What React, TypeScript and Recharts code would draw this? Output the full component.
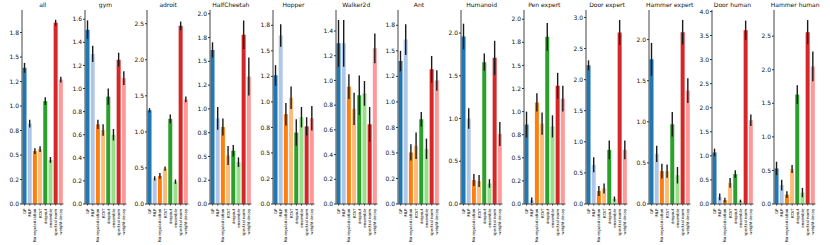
import React from 'react';
import { BarChart, Bar, XAxis, YAxis, Cell, ErrorBar } from 'recharts';

const methods = ['GP', 'MLP', 'No regularization', 'RTAT', 'dropout', 'ensemble', 'spectral norm', 'weight decay'];
const COLORS = ['#1f77b4', '#aec7e8', '#ff7f0e', '#ffbb78', '#2ca02c', '#98df8a', '#d62728', '#ff9896'];

// mean / error per panel
const allVals = [1.39, 0.82, 0.54, 0.56, 1.05, 0.45, 1.85, 1.27];
const allErr = [0.05, 0.04, 0.03, 0.03, 0.04, 0.03, 0.03, 0.03];
const gymVals = [1.51, 1.30, 0.69, 0.64, 0.93, 0.60, 1.25, 1.09];
const gymErr = [0.08, 0.07, 0.04, 0.05, 0.07, 0.05, 0.06, 0.06];
const adroitVals = [1.30, 0.355, 0.39, 0.49, 1.18, 0.31, 2.47, 1.45];
const adroitErr = [0.03, 0.03, 0.04, 0.03, 0.06, 0.03, 0.06, 0.04];
const cheetahVals = [1.62, 0.90, 0.81, 0.51, 0.56, 0.44, 1.78, 1.34];
const cheetahErr = [0.08, 0.12, 0.09, 0.1, 0.06, 0.05, 0.15, 0.2];
const hopperVals = [1.26, 1.65, 0.88, 1.04, 0.70, 0.85, 0.76, 0.84];
const hopperErr = [0.1, 0.11, 0.11, 0.11, 0.13, 0.1, 0.09, 0.12];
const walkerVals = [1.30, 1.30, 0.95, 0.77, 0.88, 0.895, 0.645, 1.26];
const walkerErr = [0.19, 0.19, 0.1, 0.13, 0.16, 0.1, 0.14, 0.12];
const antVals = [1.40, 1.61, 0.505, 0.57, 0.83, 0.54, 1.32, 1.21];
const antErr = [0.1, 0.15, 0.08, 0.13, 0.07, 0.1, 0.13, 0.1];
const humanoidVals = [1.96, 1.0, 0.28, 0.27, 1.66, 0.24, 1.71, 0.82];
const humanoidErr = [0.15, 0.12, 0.07, 0.07, 0.1, 0.05, 0.2, 0.14];
const penVals = [0.86, 0.04, 1.10, 0.87, 1.81, 0.84, 1.28, 1.14];
const penErr = [0.14, 0.03, 0.1, 0.12, 0.15, 0.12, 0.14, 0.14];
const doorExpVals = [2.23, 0.63, 0.21, 0.25, 0.87, 0.08, 2.76, 0.87];
const doorExpErr = [0.08, 0.12, 0.08, 0.08, 0.15, 0.04, 0.2, 0.15];
const hammerExpVals = [1.76, 0.61, 0.40, 0.40, 0.97, 0.35, 2.09, 1.38];
const hammerExpErr = [0.2, 0.1, 0.09, 0.08, 0.15, 0.1, 0.15, 0.15];
const doorHumVals = [1.07, 0.15, 0.08, 0.44, 0.62, 0.06, 3.61, 1.74];
const doorHumErr = [0.08, 0.07, 0.05, 0.1, 0.08, 0.03, 0.2, 0.12];
const hammerHumVals = [0.53, 0.28, 0.14, 0.52, 1.63, 0.17, 2.56, 2.05];
const hammerHumErr = [0.1, 0.08, 0.05, 0.06, 0.14, 0.07, 0.18, 0.22];

// tick values + labels
const quarter175 = [0, 0.25, 0.5, 0.75, 1, 1.25, 1.5, 1.75];
const quarter175Labels = ['0.0', '0.2', '0.5', '0.8', '1.0', '1.2', '1.5', '1.8'];
const quarter2 = [0, 0.25, 0.5, 0.75, 1, 1.25, 1.5, 1.75, 2];
const quarter2Labels = ['0.0', '0.2', '0.5', '0.8', '1.0', '1.2', '1.5', '1.8', '2.0'];
const fifth16 = [0, 0.2, 0.4, 0.6, 0.8, 1, 1.2, 1.4, 1.6];
const fifth16Labels = ['0.0', '0.2', '0.4', '0.6', '0.8', '1.0', '1.2', '1.4', '1.6'];
const fifth14 = [0, 0.2, 0.4, 0.6, 0.8, 1, 1.2, 1.4];
const fifth14Labels = ['0.0', '0.2', '0.4', '0.6', '0.8', '1.0', '1.2', '1.4'];
const half2 = [0, 0.5, 1, 1.5, 2];
const half2Labels = ['0.0', '0.5', '1.0', '1.5', '2.0'];
const half25 = [0, 0.5, 1, 1.5, 2, 2.5];
const half25Labels = ['0.0', '0.5', '1.0', '1.5', '2.0', '2.5'];
const half3 = [0, 0.5, 1, 1.5, 2, 2.5, 3];
const half3Labels = ['0.0', '0.5', '1.0', '1.5', '2.0', '2.5', '3.0'];
const half4 = [0, 0.5, 1, 1.5, 2, 2.5, 3, 3.5, 4];
const half4Labels = ['0.0', '0.5', '1.0', '1.5', '2.0', '2.5', '3.0', '3.5', '4.0'];

const panels = [
  { title: 'all', vals: allVals, err: allErr, ticks: quarter175, labels: quarter175Labels, max: 1.98 },
  { title: 'gym', vals: gymVals, err: gymErr, ticks: fifth16, labels: fifth16Labels, max: 1.68 },
  { title: 'adroit', vals: adroitVals, err: adroitErr, ticks: half25, labels: half25Labels, max: 2.69 },
  { title: 'HalfCheetah', vals: cheetahVals, err: cheetahErr, ticks: quarter2, labels: quarter2Labels, max: 2.04 },
  { title: 'Hopper', vals: hopperVals, err: hopperErr, ticks: quarter175, labels: quarter175Labels, max: 1.9 },
  { title: 'Walker2d', vals: walkerVals, err: walkerErr, ticks: fifth14, labels: fifth14Labels, max: 1.57 },
  { title: 'Ant', vals: antVals, err: antErr, ticks: quarter175, labels: quarter175Labels, max: 1.9 },
  { title: 'Humanoid', vals: humanoidVals, err: humanoidErr, ticks: half2, labels: half2Labels, max: 2.27 },
  { title: 'Pen expert', vals: penVals, err: penErr, ticks: quarter2, labels: quarter2Labels, max: 2.1 },
  { title: 'Door expert', vals: doorExpVals, err: doorExpErr, ticks: half3, labels: half3Labels, max: 3.12 },
  { title: 'Hammer expert', vals: hammerExpVals, err: hammerExpErr, ticks: half2, labels: half2Labels, max: 2.36 },
  { title: 'Door human', vals: doorHumVals, err: doorHumErr, ticks: half4, labels: half4Labels, max: 4.03 },
  { title: 'Hammer human', vals: hammerHumVals, err: hammerHumErr, ticks: half25, labels: half25Labels, max: 2.89 },
];

const FONT = 'DejaVu Sans, sans-serif';
const PLOT_W = 41.5;
const STEP = 62.7;
const FIRST_LEFT = 22;
const Y_W = 20;

const MethodTick = (props: any) => {
  const { x, y, payload } = props;
  return (
    <g transform={`translate(${x},${y + 1.2})`}>
      <text transform="rotate(-90)" textAnchor="end" dy={1.4} fontSize={3.9} fill="#000" fontFamily={FONT}>
        {payload.value}
      </text>
    </g>
  );
};

const Panel = ({ p, idx }: { p: any; idx: number }) => {
  const data = methods.map((m, i) => ({ name: m, value: p.vals[i], err: p.err[i] }));
  const plotLeft = FIRST_LEFT + idx * STEP;
  const labelFor = (v: number) => {
    const k = p.ticks.indexOf(v);
    return k >= 0 ? p.labels[k] : String(v);
  };
  return (
    <div style={{ position: 'absolute', left: plotLeft - Y_W, top: 0 }}>
      <div
        style={{
          position: 'absolute', left: Y_W - 10, width: PLOT_W + 20, top: 0, textAlign: 'center',
          fontSize: 6, fontFamily: FONT, color: '#111', lineHeight: '9px', whiteSpace: 'nowrap',
        }}
      >
        {p.title}
      </div>
      <BarChart
        width={Y_W + PLOT_W + 2}
        height={245}
        data={data}
        margin={{ top: 10, right: 2, left: 0, bottom: 0 }}
        barCategoryGap="10%"
      >
        <XAxis
          dataKey="name"
          interval={0}
          height={41}
          tick={<MethodTick />}
          tickSize={1.5}
          axisLine={{ stroke: '#444', strokeWidth: 1 }}
          tickLine={{ stroke: '#333' }}
        />
        <XAxis xAxisId="top" orientation="top" dataKey="name" height={0} tick={false} tickLine={false}
          axisLine={{ stroke: '#aaa', strokeWidth: 2 }} />
        <YAxis
          domain={[0, p.max]}
          ticks={p.ticks}
          width={Y_W}
          tickFormatter={labelFor}
          tick={{ fontSize: 6, fill: '#111', fontFamily: FONT }}
          tickSize={2}
          tickMargin={1}
          tickLine={{ stroke: '#333' }}
          axisLine={{ stroke: '#444', strokeWidth: 1 }}
          allowDataOverflow
        />
        <YAxis yAxisId="right" orientation="right" width={0} tick={false} tickLine={false}
          axisLine={{ stroke: '#999', strokeWidth: 1 }} />
        <Bar dataKey="value" isAnimationActive={false}>
          {data.map((_, i) => (
            <Cell key={`c-${i}`} fill={COLORS[i]} />
          ))}
          <ErrorBar dataKey="err" width={0} stroke="#1a1a1a" strokeWidth={1.4} direction="y" isAnimationActive={false} />
        </Bar>
      </BarChart>
    </div>
  );
};

export default function App() {
  return (
    <div style={{ position: 'absolute', left: 0, top: 0, width: 830, height: 245, background: '#fff' }}>
      {panels.map((p, i) => (
        <Panel key={p.title} p={p} idx={i} />
      ))}
    </div>
  );
}
